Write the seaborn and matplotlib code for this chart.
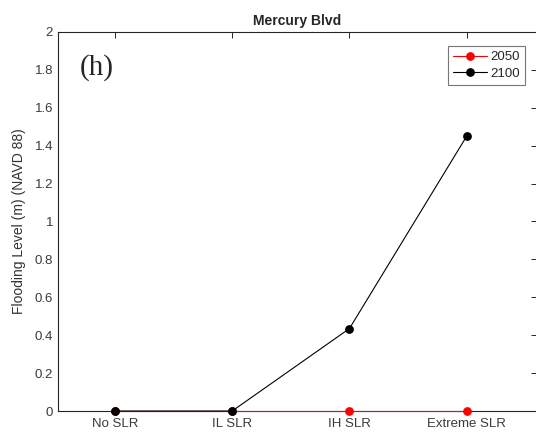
import matplotlib
matplotlib.use("Agg")
import matplotlib.pyplot as plt
import seaborn as sns
import pandas as pd

scenarios = ["No SLR", "IL SLR", "IH SLR", "Extreme SLR"]
level_2050 = [0.0, 0.0, 0.0, 0.0]
level_2100 = [0.0, 0.0, 0.435, 1.45]
years = ["2050", "2100"]
y_ticks = [0, 0.2, 0.4, 0.6, 0.8, 1, 1.2, 1.4, 1.6, 1.8, 2]

rows = []
for yr, vals in zip(years, [level_2050, level_2100]):
    for i, (s, v) in enumerate(zip(scenarios, vals)):
        rows.append({"pos": i + 1, "scenario": s, "level": v, "year": yr})
df = pd.DataFrame(rows)

sns.set_style("white")
plt.rcParams["font.family"] = ["Liberation Sans", "DejaVu Sans"]

fig = plt.figure(figsize=(5.36, 4.40), dpi=100)
ax = fig.add_axes([58 / 536, 1 - 411 / 440, (537 - 58) / 536, (411 - 32) / 440])

sns.lineplot(data=df, x="pos", y="level", hue="year", hue_order=years,
             palette={"2050": "#ff0000", "2100": "black"},
             marker="o", markersize=6.3, markeredgewidth=0, linewidth=0.8,
             clip_on=False, zorder=3, ax=ax, legend=False)

ax.set_xlim(0.514, 4.6)
ax.set_ylim(0, 2)
ax.set_xticks(range(1, len(scenarios) + 1))
ax.set_xticklabels(scenarios)
ax.set_yticks(y_ticks)
ax.set_yticklabels([f"{t:g}" for t in y_ticks])
ax.tick_params(axis="both", direction="in", length=4, width=0.7,
               colors="#262626", labelsize=9.5, top=True, right=True,
               labelcolor="#3a3a3a")
ax.tick_params(axis="x", pad=5)
for sp in ax.spines.values():
    sp.set_color("#262626")
    sp.set_linewidth(0.8)

ax.set_xlabel("")
ax.set_ylabel("Flooding Level (m) (NAVD 88)", fontsize=10, color="#333333", labelpad=6)
ax.set_title("Mercury Blvd", fontsize=10, fontweight="bold", pad=5)

ax.text(0.045, 0.905, "(h)", transform=ax.transAxes, fontsize=21,
        family="Liberation Serif", va="center", ha="left")

handles = [
    plt.Line2D([], [], color="#ff0000", marker="o", markersize=6.3,
               markeredgewidth=0, linewidth=0.8),
    plt.Line2D([], [], color="black", marker="o", markersize=6.3,
               markeredgewidth=0, linewidth=0.8),
]
leg = ax.legend(handles, years, loc="upper right", bbox_to_anchor=(0.975, 0.962),
                fontsize=9.5, frameon=True, fancybox=False, edgecolor="#555555",
                handlelength=2.6, handletextpad=0.3, borderpad=0.35,
                labelspacing=0.35, borderaxespad=0)
leg.get_frame().set_linewidth(0.8)

fig.savefig("out.png", dpi=100)
